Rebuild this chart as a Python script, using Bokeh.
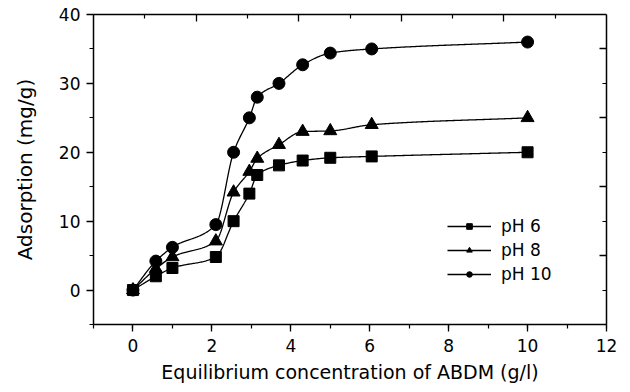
import numpy as np
from bokeh.plotting import figure
from bokeh.models import (LinearAxis, SingleIntervalTicker, FixedTicker, Range1d,
                          Legend, LegendItem, CustomLabelingPolicy)
from bokeh.embed import file_html
from bokeh.resources import INLINE

# ---------------- data ----------------
x_ph6 = [0, 0.58, 1.0, 2.1, 2.55, 2.95, 3.15, 3.7, 4.3, 5.0, 6.05, 10.0]
y_ph6 = [0, 2.0, 3.2, 4.8, 10.0, 14.0, 16.7, 18.1, 18.8, 19.2, 19.4, 20.0]

x_ph8 = [0, 0.58, 1.0, 2.1, 2.55, 2.95, 3.15, 3.7, 4.3, 5.0, 6.05, 10.0]
y_ph8 = [0, 3.1, 4.8, 7.1, 14.2, 17.2, 19.1, 21.1, 23.0, 23.1, 24.0, 25.0]

x_ph10 = [0, 0.58, 1.0, 2.1, 2.55, 2.95, 3.15, 3.7, 4.3, 5.0, 6.05, 10.0]
y_ph10 = [0, 4.2, 6.2, 9.5, 20.0, 25.0, 28.0, 30.0, 32.7, 34.4, 35.0, 36.0]

series_labels = ["pH 6", "pH 8", "pH 10"]
x_ticks_top_major = [1.6, 4.2, 6.8, 9.4]
x_ticks_top_minor = [0.3, 2.9, 5.5, 8.1, 10.7]
y_ticks_right_major = [5, 15, 25, 35]
y_ticks_right_minor = [0, 10, 20, 30]

FONT = "DejaVu Sans"


def pchip(x, y, n=400):
    """Monotone cubic (Fritsch-Carlson) curve through the data points, for drawing."""
    x = np.asarray(x, float)
    y = np.asarray(y, float)
    h = np.diff(x)
    d = np.diff(y) / h
    m = np.zeros_like(x)
    for k in range(1, len(x) - 1):
        if d[k - 1] * d[k] > 0:
            w1 = 2 * h[k] + h[k - 1]
            w2 = h[k] + 2 * h[k - 1]
            m[k] = (w1 + w2) / (w1 / d[k - 1] + w2 / d[k])
    m[0] = d[0]
    m[-1] = d[-1]
    xs = np.linspace(x[0], x[-1], n)
    idx = np.clip(np.searchsorted(x, xs) - 1, 0, len(x) - 2)
    t = (xs - x[idx]) / h[idx]
    h00 = 2 * t**3 - 3 * t**2 + 1
    h10 = t**3 - 2 * t**2 + t
    h01 = -2 * t**3 + 3 * t**2
    h11 = t**3 - t**2
    ys = h00 * y[idx] + h10 * h[idx] * m[idx] + h01 * y[idx + 1] + h11 * h[idx] * m[idx + 1]
    return xs, ys


p = figure(width=630, height=392, output_backend="svg", toolbar_location=None,
           x_range=Range1d(-1, 12), y_range=Range1d(-5, 40),
           min_border_left=93, min_border_right=24, min_border_top=14,
           min_border_bottom=68)
p.background_fill_color = "white"
p.border_fill_color = "white"
p.outline_line_color = None
p.xgrid.visible = False
p.ygrid.visible = False

# bottom axis
xa = p.xaxis[0]
xa.ticker = SingleIntervalTicker(interval=2, num_minor_ticks=2)
xa.axis_label = "Equilibrium concentration of ABDM (g/l)"
# left axis
ya = p.yaxis[0]
ya.ticker = SingleIntervalTicker(interval=10, num_minor_ticks=2)
ya.axis_label = "Adsorption (mg/g)"

for ax in (xa, ya):
    ax.axis_line_width = 1.5
    ax.axis_line_color = "black"
    ax.major_tick_out = 7
    ax.major_tick_in = 0
    ax.minor_tick_out = 4
    ax.minor_tick_in = 0
    ax.major_tick_line_width = 1.3
    ax.minor_tick_line_width = 1.2
    ax.major_label_text_font = FONT
    ax.major_label_text_font_size = "17px"
    ax.major_label_text_color = "black"
    ax.axis_label_text_font = FONT
    ax.axis_label_text_font_size = "19px"
    ax.axis_label_text_font_style = "normal"
    ax.axis_label_text_color = "black"
ya.axis_label_text_font_size = "20px"
xa.major_label_standoff = 7
xa.axis_label_standoff = 6
ya.major_label_standoff = 6
ya.axis_label_standoff = 19

top = LinearAxis(ticker=FixedTicker(ticks=x_ticks_top_major, minor_ticks=x_ticks_top_minor),
                 major_label_policy=CustomLabelingPolicy(code="return new Set()"))
right = LinearAxis(ticker=FixedTicker(ticks=y_ticks_right_major, minor_ticks=y_ticks_right_minor),
                   major_label_policy=CustomLabelingPolicy(code="return new Set()"))
for ax in (top, right):
    ax.axis_line_width = 1.5
    ax.axis_line_color = "black"
    ax.major_tick_in = 7
    ax.major_tick_out = 0
    ax.minor_tick_in = 4
    ax.minor_tick_out = 0
    ax.major_tick_line_width = 1.3
    ax.minor_tick_line_width = 1.2
    ax.major_label_standoff = 0
p.add_layout(top, "above")
p.add_layout(right, "right")

markers = ["square", "triangle", "circle"]
sizes = [11, 13, 12]
data = [(x_ph6, y_ph6), (x_ph8, y_ph8), (x_ph10, y_ph10)]

items = []
for (xs, ys), mk, sz, lab in zip(data, markers, sizes, series_labels):
    cx, cy = pchip(xs, ys)
    lr = p.line(cx, cy, line_color="black", line_width=1.3)
    sr = p.scatter(xs, ys, marker=mk, size=sz, fill_color="black", line_color="black")
    items.append(LegendItem(label=lab, renderers=[lr, sr]))

legend = Legend(items=items, location=(354, 40))
legend.background_fill_alpha = 0
legend.border_line_color = None
legend.padding = 0
legend.margin = 0
legend.spacing = 4
legend.glyph_width = 44
legend.glyph_height = 14
legend.label_height = 20
legend.label_standoff = 10
legend.label_text_font = FONT
legend.label_text_font_size = "17px"
legend.label_text_color = "black"
p.add_layout(legend, "center")

open("out.html", "w").write(file_html(p, INLINE))
